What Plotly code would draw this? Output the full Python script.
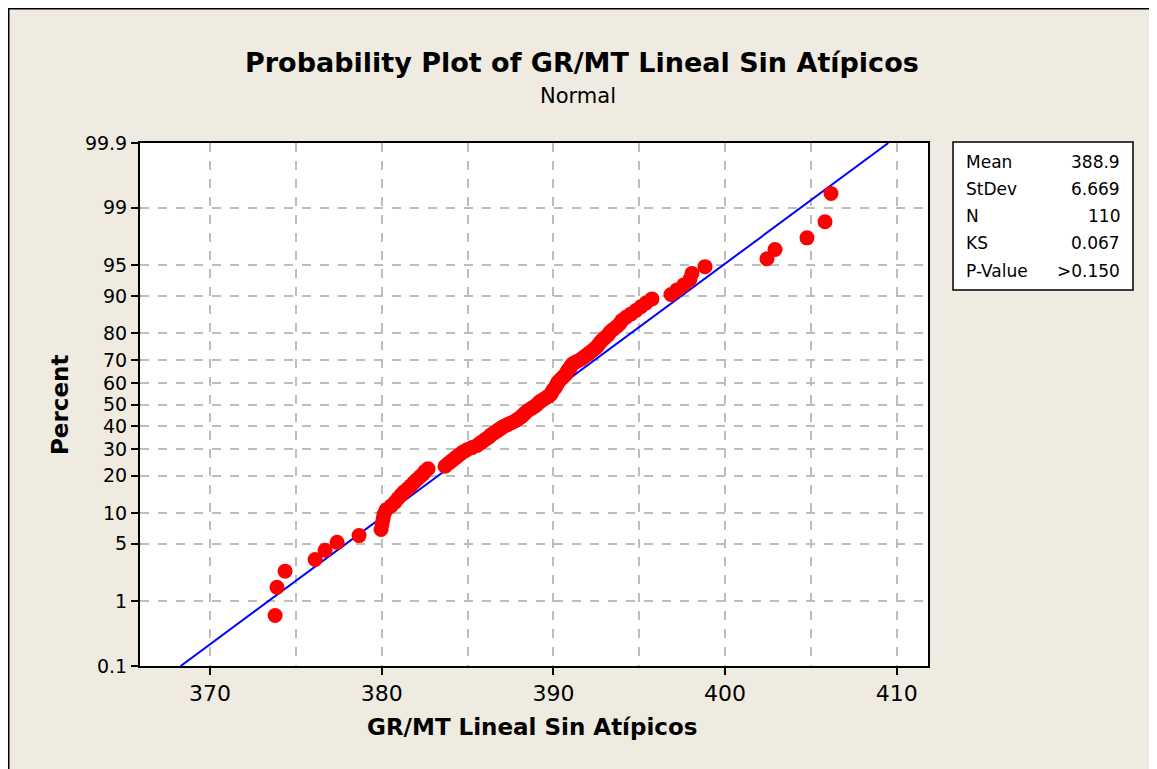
import plotly.graph_objects as go
from statistics import NormalDist

values = [
    373.79, 373.90, 374.37, 376.12, 376.70, 377.40, 378.68, 379.96, 380.02, 380.08,
    380.13, 380.25, 380.54, 380.77, 380.95, 381.12, 381.30, 381.53, 381.71, 381.88,
    382.06, 382.23, 382.41, 382.52, 382.70, 383.69, 383.86, 384.04, 384.21, 384.39,
    384.56, 384.73, 384.97, 385.26, 385.55, 385.72, 385.90, 386.07, 386.25, 386.37,
    386.54, 386.72, 386.89, 387.06, 387.30, 387.53, 387.76, 387.94, 388.11, 388.23,
    388.35, 388.46, 388.64, 388.81, 388.99, 389.10, 389.22, 389.39, 389.57, 389.74,
    389.86, 389.92, 389.98, 390.09, 390.15, 390.21, 390.27, 390.38, 390.50, 390.62,
    390.73, 390.79, 390.85, 390.97, 391.03, 391.14, 391.37, 391.61, 391.78, 391.96,
    392.13, 392.31, 392.48, 392.60, 392.71, 392.83, 393.01, 393.18, 393.29, 393.47,
    393.70, 393.88, 393.99, 394.23, 394.52, 394.81, 395.10, 395.39, 395.74, 396.85,
    397.20, 397.60, 397.95, 398.07, 398.83, 402.44, 402.91, 404.77, 405.82, 406.17,
]
mean_val = 388.9
sd_val = 6.669
stat_labels = ["Mean", "StDev", "N", "KS", "P-Value"]
stat_values = ["388.9", "6.669", "110", "0.067", ">0.150"]
pct_ticks = [0.1, 1, 5, 10, 20, 30, 40, 50, 60, 70, 80, 90, 95, 99, 99.9]
pct_labels = ["0.1", "1", "5", "10", "20", "30", "40", "50", "60", "70", "80", "90", "95", "99", "99.9"]
x_ticks = [370, 380, 390, 400, 410]

nd = NormalDist()
n = len(values)
zpts = [nd.inv_cdf((i + 1 - 0.3) / (n + 0.4)) for i in range(n)]
zlo, zhi = nd.inv_cdf(0.001), nd.inv_cdf(0.999)
fit_z = [zlo, zhi]
fit_x = [mean_val + sd_val * z for z in fit_z]

FONT = "DejaVu Sans"
fig = go.Figure()
fig.add_trace(go.Scatter(x=fit_x, y=fit_z, mode="lines",
                         line=dict(color="#0000FF", width=2), showlegend=False,
                         hoverinfo="skip"))
fig.add_trace(go.Scatter(x=values, y=zpts, mode="markers",
                         marker=dict(color="#FF0000", size=15, line=dict(width=0)),
                         showlegend=False))

OFF = 8  # page offset of the figure
W, H = 1157, 769
L, R, T, B = 140 - OFF, 928 - OFF, 143 - OFF, 666 - OFF
def px(x):
    return (x - OFF - L) / (R - L)
def py(y):
    return (B - (y - OFF)) / (B - T)

grid = dict(gridcolor="#BEBEBE", griddash="dash", gridwidth=1.5)
fig.update_layout(
    width=W, height=H,
    margin=dict(l=L, r=W - R, t=T, b=H - B),
    paper_bgcolor="#EFEBE0", plot_bgcolor="#FFFFFF",
    font=dict(family=FONT, color="#000000", size=18),
    xaxis=dict(range=[365.92, 411.82], tickvals=x_ticks, ticktext=[str(v) for v in x_ticks],
               showgrid=True, **grid, zeroline=False,
               showline=True, mirror=True, linecolor="#000000", linewidth=2,
               ticks="outside", ticklen=7, tickwidth=1.5, tickcolor="#000000",
               tickfont=dict(size=22, family=FONT),
               minor=dict(dtick=5, tick0=370, showgrid=True, gridcolor="#BEBEBE",
                          griddash="dash", gridwidth=1.5, ticks="")),
    yaxis=dict(range=[zlo, zhi], tickvals=[nd.inv_cdf(p / 100) for p in pct_ticks],
               ticktext=pct_labels, showgrid=True, **grid, zeroline=False,
               showline=True, mirror=True, linecolor="#000000", linewidth=2,
               ticks="outside", ticklen=7, tickwidth=1.5, tickcolor="#000000",
               tickfont=dict(size=19, family=FONT)),
)

ann = []
ann.append(dict(text="<b>Probability Plot of GR/MT Lineal Sin Atípicos</b>",
                x=px(582), y=py(62), xref="paper", yref="paper", showarrow=False,
                font=dict(size=27, family=FONT), xanchor="center", yanchor="middle"))
ann.append(dict(text="Normal", x=px(578), y=py(96), xref="paper", yref="paper",
                showarrow=False, font=dict(size=21, family=FONT),
                xanchor="center", yanchor="middle"))
ann.append(dict(text="<b>GR/MT Lineal Sin Atípicos</b>", x=px(532), y=py(727),
                xref="paper", yref="paper", showarrow=False,
                font=dict(size=23, family=FONT), xanchor="center", yanchor="middle"))
ann.append(dict(text="<b>Percent</b>", x=px(60), y=py(405), xref="paper", yref="paper",
                showarrow=False, textangle=-90, font=dict(size=23, family=FONT),
                xanchor="center", yanchor="middle"))
row_y = [161.5, 188.5, 216, 243, 271]
for lab, val, yy in zip(stat_labels, stat_values, row_y):
    ann.append(dict(text=lab, x=px(964), y=py(yy), xref="paper", yref="paper",
                    showarrow=False, font=dict(size=17, family=FONT),
                    xanchor="left", yanchor="middle"))
    ann.append(dict(text=val, x=px(1122), y=py(yy), xref="paper", yref="paper",
                    showarrow=False, font=dict(size=17, family=FONT),
                    xanchor="right", yanchor="middle"))
fig.update_layout(annotations=ann)

shapes = [
    dict(type="rect", xref="paper", yref="paper", x0=px(953), x1=px(1133),
         y0=py(290), y1=py(142), fillcolor="#FFFFFF", line=dict(color="#000000", width=1.5)),
    dict(type="line", xref="paper", yref="paper", x0=px(8.75), x1=px(8.75),
         y0=py(8), y1=py(800), line=dict(color="#000000", width=1.5)),
    dict(type="line", xref="paper", yref="paper", x0=px(8), x1=px(1200),
         y0=py(8.75), y1=py(8.75), line=dict(color="#000000", width=1.5)),
]
fig.update_layout(shapes=shapes)

fig.write_html("out.html")
